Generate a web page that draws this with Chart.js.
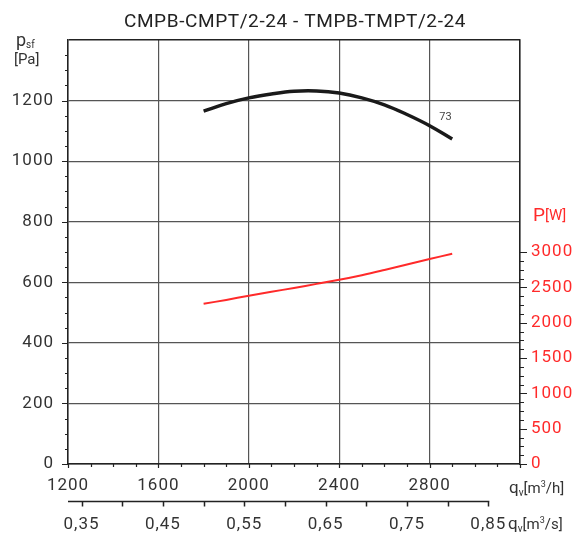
<!DOCTYPE html>
<html>
<head>
<meta charset="utf-8">
<script src="https://cdn.jsdelivr.net/npm/chart.js@4.4.1/dist/chart.umd.min.js"></script>
<style>
  html, body { margin: 0; padding: 0; background: #fff; }
  #wrap { width: 577px; height: 533px; position: relative; }
</style>
</head>
<body>
<div id="wrap"><canvas id="myChart"></canvas></div>
<script>
// airflow q_v [m3/h]
const flow = [1800, 1900, 2000, 2100, 2200, 2300, 2400, 2500, 2600, 2700, 2800, 2900];
// static pressure p_sf [Pa]
const pressure = [1165, 1190, 1209, 1222, 1231, 1232, 1225, 1209, 1186, 1154, 1117, 1073];
// power P [W]
const power = [2267, 2322, 2381, 2436, 2492, 2549, 2607, 2672, 2745, 2822, 2900, 2976];

const flowTicks = [1200, 1600, 2000, 2400, 2800];
const pressureTicks = [0, 200, 400, 600, 800, 1000, 1200];
const powerTicks = [0, 500, 1000, 1500, 2000, 2500, 3000];
const flowSecTicks = ["0,35", "0,45", "0,55", "0,65", "0,75", "0,85"];
const flowSecValues = [0.35, 0.45, 0.55, 0.65, 0.75, 0.85];

const curveLabel = { q: 2870, p: 1145, text: "73" };
const title = "CMPB-CMPT/2-24 - TMPB-TMPT/2-24";

const TXT = "#333";
const RED = "#ff2a2a";

Chart.defaults.font.family = "Roboto";
Chart.defaults.font.size = 17;
Chart.defaults.color = TXT;

function drawParts(ctx, x, y, parts, color) {
  let cx = x;
  ctx.fillStyle = color;
  ctx.textAlign = "left";
  ctx.textBaseline = "alphabetic";
  for (const [t, size, dy] of parts) {
    ctx.font = `${size}px Roboto`;
    ctx.fillText(t, cx, y + dy);
    cx += ctx.measureText(t).width;
  }
}

const deco = {
  id: "deco",
  beforeDraw(chart) {
    chart.ctx.letterSpacing = "1px";
  },
  afterDraw(chart) {
    const { ctx, chartArea: a, scales: { x, y, y1 } } = chart;
    ctx.save();
    ctx.strokeStyle = "#222";
    ctx.lineWidth = 1.2;
    ctx.beginPath();
    // left minor ticks
    for (let v = 0; v < 1400; v += 50) {
      const py = Math.round(y.getPixelForValue(v)) + 0.5;
      const len = v % 200 === 0 ? 6 : 3;
      ctx.moveTo(a.left - len, py);
      ctx.lineTo(a.left, py);
    }
    // bottom minor ticks
    for (let v = 1200; v <= 3200; v += 100) {
      const px = Math.round(x.getPixelForValue(v)) + 0.5;
      const len = v % 400 === 0 ? 4 : 3;
      ctx.moveTo(px, a.bottom);
      ctx.lineTo(px, a.bottom + len);
    }
    // right ticks
    for (let v = 0; v <= 3000; v += 125) {
      const py = Math.round(y1.getPixelForValue(v)) + 0.5;
      const len = v % 500 === 0 ? 7 : 4;
      ctx.moveTo(a.right, py);
      ctx.lineTo(a.right + len, py);
    }
    ctx.stroke();

    // secondary flow axis in m3/s
    const ay = a.bottom + 37.5;
    const xEnd = x.getPixelForValue(0.85 * 3600);
    ctx.lineWidth = 1.5;
    ctx.beginPath();
    ctx.moveTo(a.left, ay);
    ctx.lineTo(xEnd + 1, ay);
    for (let v = 0.35; v <= 0.851; v += 0.05) {
      const px = Math.round(x.getPixelForValue(v * 3600)) + 0.5;
      ctx.moveTo(px, ay);
      ctx.lineTo(px, ay + 5);
    }
    ctx.stroke();

    ctx.font = "17px Roboto";
    ctx.fillStyle = TXT;
    ctx.textAlign = "center";
    ctx.textBaseline = "middle";
    flowSecValues.forEach((v, i) => {
      ctx.fillText(flowSecTicks[i], x.getPixelForValue(v * 3600), ay + 23);
    });

    // title
    ctx.letterSpacing = "0.6px";
    ctx.font = "19px Roboto";
    ctx.fillStyle = "#222";
    ctx.fillText(title, 295, 22);

    // curve label
    ctx.letterSpacing = "0px";
    ctx.font = "11px Roboto";
    ctx.fillStyle = "#444";
    ctx.fillText(curveLabel.text, x.getPixelForValue(curveLabel.q), y.getPixelForValue(curveLabel.p));

    // axis titles
    drawParts(ctx, 16, 46, [["p", 18, 0], ["sf", 10, 2]], TXT);
    drawParts(ctx, 14, 64, [["[Pa]", 15, 0]], TXT);
    drawParts(ctx, 509, 493, [["q", 17, 0], ["v", 10, 3], ["[m", 15, 0], ["3", 9, -6], ["/h]", 15, 0]], TXT);
    drawParts(ctx, 508, 529, [["q", 17, 0], ["v", 10, 3], ["[m", 15, 0], ["3", 9, -6], ["/s]", 15, 0]], TXT);
    drawParts(ctx, 533, 221, [["P", 19, 0], ["[W]", 15, -1]], RED);
    ctx.restore();
  },
};

const ctx = document.querySelector("#myChart").getContext("2d");

const data = {
  datasets: [
    {
      label: "p_sf",
      data: flow.map((q, i) => ({ x: q, y: pressure[i] })),
      borderColor: "#1a1a1a",
      borderWidth: 3.5,
      pointRadius: 0,
      tension: 0.4,
      yAxisID: "y",
    },
    {
      label: "P",
      data: flow.map((q, i) => ({ x: q, y: power[i] })),
      borderColor: RED,
      borderWidth: 2,
      pointRadius: 0,
      tension: 0.4,
      yAxisID: "y1",
    },
  ],
};

const config = {
  type: "scatter",
  data,
  plugins: [deco],
  options: {
    responsive: true,
    maintainAspectRatio: false,
    animation: false,
    showLine: true,
    layout: { padding: { top: 40, left: 0, right: 0, bottom: 0 } },
    plugins: { legend: { display: false }, tooltip: { enabled: false } },
    scales: {
      x: {
        type: "linear",
        min: 1200,
        max: 3200,
        afterFit: (s) => { s.height = 69; },
        afterBuildTicks: (s) => { s.ticks = [...flowTicks, 3200].map((v) => ({ value: v })); },
        ticks: {
          padding: 12,
          maxRotation: 0,
          callback: (v) => (flowTicks.includes(v) ? String(v) : ""),
        },
        grid: {
          drawTicks: false,
          color: (c) => (c.tick && (c.tick.value === 1200 || c.tick.value === 3200) ? "#222" : "#555"),
          lineWidth: 1.2,
        },
        border: { color: "#222", width: 1.5 },
      },
      y: {
        position: "left",
        min: 0,
        max: 1400,
        afterFit: (s) => { s.width = 68; },
        afterBuildTicks: (s) => { s.ticks = [...pressureTicks, 1400].map((v) => ({ value: v })); },
        ticks: {
          padding: 14,
          callback: (v) => (pressureTicks.includes(v) ? String(v) : ""),
        },
        grid: {
          drawTicks: false,
          color: (c) => (c.tick && (c.tick.value === 0 || c.tick.value === 1400) ? "#222" : "#555"),
          lineWidth: (c) => (c.tick && c.tick.value === 1400 ? 1.5 : 1.2),
        },
        border: { color: "#222", width: 1.5 },
      },
      y1: {
        position: "right",
        min: 0,
        max: 6000,
        afterFit: (s) => { s.width = 57; },
        afterBuildTicks: (s) => { s.ticks = powerTicks.map((v) => ({ value: v })); },
        ticks: {
          padding: 11,
          color: RED,
          callback: (v) => String(v),
        },
        grid: { display: false, drawTicks: false },
        border: { color: "#222", width: 1.5 },
      },
    },
  },
};

const myChart = new Chart(ctx, config);
</script>
</body>
</html>
